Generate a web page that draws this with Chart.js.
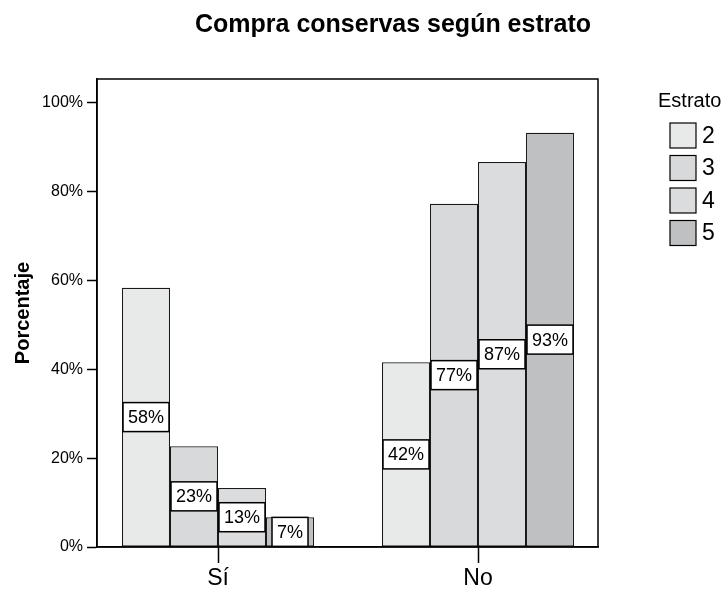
<!DOCTYPE html>
<html lang="es">
<head>
    <meta charset="UTF-8">
    <title>Compra conservas según estrato</title>
    <style>
        body {
            margin: 0;
            padding: 0;
            background: #ffffff;
        }
        #chart {
            display: block;
        }
    </style>
</head>
<body>

<canvas id="chart" width="728" height="592"></canvas>

<script src="https://cdn.jsdelivr.net/npm/chart.js"></script>
<script>
    // data (percent of each estrato)
    const categories = ['Sí', 'No'];
    const estratos = ['2', '3', '4', '5'];
    const estrato2 = [58.4, 41.6];
    const estrato3 = [22.7, 77.3];
    const estrato4 = [13.3, 86.7];
    const estrato5 = [6.7, 93.3];
    const yTicks = [0, 20, 40, 60, 80, 100];

    const colors = ['#e8e9e9', '#d8d9db', '#dbdcde', '#bfc0c2'];
    const FONT = '"Liberation Sans", Arial, sans-serif';

    const series = [estrato2, estrato3, estrato4, estrato5];

    // title drawn by hand so it can sit where the original has it
    const titlePlugin = {
        id: 'titlePlugin',
        afterDraw(chart) {
            const ctx = chart.ctx;
            ctx.save();
            ctx.font = 'bold 25px ' + FONT;
            ctx.fillStyle = '#000';
            ctx.textAlign = 'center';
            ctx.textBaseline = 'alphabetic';
            ctx.fillText('Compra conservas según estrato', 393, 32);
            ctx.restore();
        }
    };

    // box round the plot area
    const framePlugin = {
        id: 'framePlugin',
        beforeDatasetsDraw(chart) {
            const a = chart.chartArea;
            const ctx = chart.ctx;
            ctx.save();
            ctx.strokeStyle = '#000';
            ctx.lineWidth = 1.5;
            ctx.strokeRect(a.left, a.top, a.right - a.left, a.bottom - a.top);
            ctx.restore();
        }
    };

    // white boxes with the percent in the middle of each bar
    const valueLabels = {
        id: 'valueLabels',
        afterDatasetsDraw(chart) {
            const ctx = chart.ctx;
            ctx.save();
            ctx.font = '18px ' + FONT;
            ctx.textAlign = 'center';
            ctx.textBaseline = 'middle';
            chart.data.datasets.forEach((ds, i) => {
                const meta = chart.getDatasetMeta(i);
                meta.data.forEach((bar, j) => {
                    const text = Math.round(ds.data[j].y) + '%';
                    const w = ctx.measureText(text).width + 10;
                    const h = 29;
                    const cy = (bar.y + bar.base) / 2;
                    ctx.fillStyle = '#fff';
                    ctx.fillRect(bar.x - w / 2, cy - h / 2, w, h);
                    ctx.strokeStyle = '#000';
                    ctx.lineWidth = 1.5;
                    ctx.strokeRect(bar.x - w / 2, cy - h / 2, w, h);
                    ctx.fillStyle = '#000';
                    ctx.fillText(text, bar.x, cy + 1);
                });
            });
            ctx.restore();
        }
    };

    // legend on the right, like the SPSS output
    const legendPlugin = {
        id: 'legendPlugin',
        afterDraw(chart) {
            const ctx = chart.ctx;
            ctx.save();
            ctx.fillStyle = '#000';
            ctx.font = '20px ' + FONT;
            ctx.textAlign = 'left';
            ctx.textBaseline = 'alphabetic';
            ctx.fillText('Estrato', 658, 107);
            ctx.font = '23px ' + FONT;
            ctx.textBaseline = 'middle';
            chart.data.datasets.forEach((ds, i) => {
                const y = 123 + i * 32.5;
                ctx.fillStyle = ds.backgroundColor;
                ctx.fillRect(670, y, 26, 25);
                ctx.strokeStyle = '#000';
                ctx.lineWidth = 1.2;
                ctx.strokeRect(670, y, 26, 25);
                ctx.fillStyle = '#000';
                ctx.fillText(ds.label, 702, y + 13.5);
            });
            ctx.restore();
        }
    };

    new Chart(document.getElementById('chart'), {
        type: 'bar',
        data: {
            datasets: series.map((values, i) => ({
                label: estratos[i],
                data: values.map((v, k) => ({ x: k, y: v })),
                backgroundColor: colors[i],
                borderColor: '#1a1a1a',
                borderWidth: 1.2,
                borderSkipped: false,
                categoryPercentage: 0.7385,
                barPercentage: 1.0
            }))
        },
        options: {
            responsive: false,
            animation: false,
            layout: {
                padding: { top: 79, right: 130, left: 0, bottom: 0 }
            },
            plugins: {
                legend: { display: false },
                title: { display: false },
                tooltip: { enabled: false }
            },
            scales: {
                x: {
                    type: 'linear',
                    offset: false,
                    min: -0.4654,
                    max: 1.4615,
                    afterBuildTicks: (scale) => {
                        scale.ticks = categories.map((c, i) => ({ value: i }));
                    },
                    afterFit: (scale) => { scale.height = 45; },
                    grid: {
                        display: true,
                        offset: false,
                        drawOnChartArea: false,
                        tickLength: 16,
                        tickColor: '#000',
                        tickWidth: 1.5
                    },
                    border: { color: '#000', width: 1.5 },
                    ticks: {
                        padding: 2,
                        color: '#000',
                        font: { family: FONT, size: 23 },
                        callback: (v) => categories[v]
                    }
                },
                y: {
                    min: 0,
                    max: 105.4,
                    afterBuildTicks: (scale) => {
                        scale.ticks = yTicks.map(v => ({ value: v }));
                    },
                    afterFit: (scale) => { scale.width = 97; },
                    grid: {
                        display: true,
                        drawOnChartArea: false,
                        tickLength: 10,
                        tickColor: '#000',
                        tickWidth: 1.5
                    },
                    border: { color: '#000', width: 1.5 },
                    ticks: {
                        padding: 4,
                        color: '#000',
                        font: { family: FONT, size: 16 },
                        callback: (v) => v + '%'
                    },
                    title: {
                        display: true,
                        text: 'Porcentaje',
                        color: '#000',
                        font: { family: FONT, size: 20, weight: 'bold' },
                        padding: { top: 11, bottom: 0 }
                    }
                }
            }
        },
        plugins: [framePlugin, valueLabels, titlePlugin, legendPlugin]
    });
</script>

</body>
</html>
